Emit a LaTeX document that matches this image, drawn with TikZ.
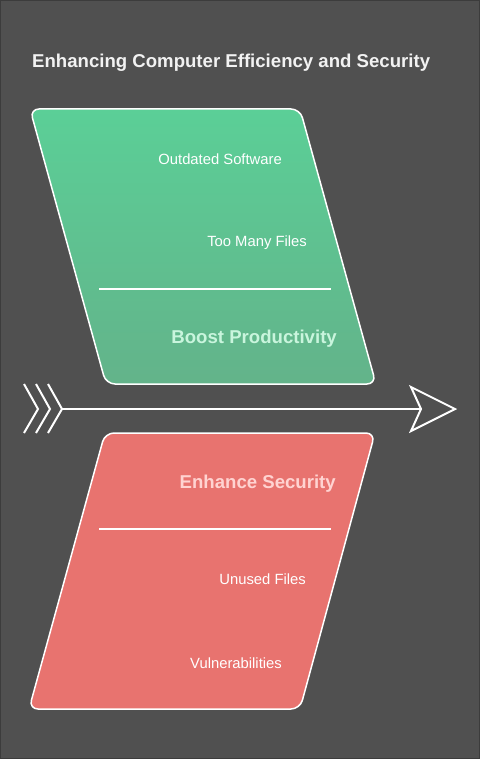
\documentclass[tikz,border=0pt]{standalone}
\usepackage{fontspec}
\setmainfont{Liberation Sans}
\definecolor{bg}{HTML}{505050}
\definecolor{bgedge}{HTML}{3C3C3C}
\definecolor{gtop}{HTML}{5BCF97}
\definecolor{gbot}{HTML}{63B38A}
\definecolor{redf}{HTML}{E8736F}
\definecolor{gtxt}{HTML}{C9F5DD}
\definecolor{rtxt}{HTML}{FFD3D1}
\definecolor{ttxt}{HTML}{F2F2F2}
\tikzset{
  panel/.style={draw=white, line width=1.5pt, rounded corners=9pt},
  item/.style={anchor=east, text=white, font=\fontsize{14.8}{16}\selectfont, inner sep=0pt},
  head/.style={anchor=east, font=\bfseries\fontsize{18.6}{20}\selectfont, inner sep=0pt},
  divider/.style={draw=white, line width=1.5pt},
  spine/.style={draw=white, line width=2pt},
}
\begin{document}
\begin{tikzpicture}[x=1pt,y=-1pt]
\fill[bg] (0,0) rectangle (480,759);
\draw[bgedge, line width=1pt] (0.5,0.5) rectangle (479.5,758.5);
\useasboundingbox (0,0) rectangle (480,759);

\node[anchor=west, text=ttxt, font=\bfseries\fontsize{18.6}{20}\selectfont, inner sep=0pt] (title) at (32,63) {Enhancing Computer Efficiency and Security};

% green panel
\shade[top color=gtop, bottom color=gbot, rounded corners=9pt] (30,109) -- (300,109) -- (376,384) -- (106,384) -- cycle;
\draw[panel] (30,109) -- (300,109) -- (376,384) -- (106,384) -- cycle;
\coordinate (gl) at (99,289);
\coordinate (gr) at (331,289);
\draw[divider] (gl) -- (gr);
\node[item] (o1) at (282,159) {Outdated Software};
\node[item] (o2) at (307,243) {Too Many Files};
\node[head, text=gtxt] (bp) at (337,339) {Boost Productivity};

% red panel
\draw[panel, fill=redf] (105,433) -- (375,433) -- (300,709) -- (29,709) -- cycle;
\coordinate (rl) at (99,529);
\coordinate (rr) at (331,529);
\draw[divider] (rl) -- (rr);
\node[head, text=rtxt] (es) at (336,484) {Enhance Security};
\node[item] (u1) at (306,579) {Unused Files};
\node[item] (u2) at (282,663) {Vulnerabilities};

% arrow
\coordinate (tail) at (62,409);
\coordinate (notch) at (421,409);
\coordinate (tip) at (455,409);
\coordinate (ht) at (411,387);
\coordinate (hb) at (411,431);
\draw[spine] (tail) -- (notch);
\draw[spine, line join=miter] (notch) -- (ht) -- (tip) -- (hb) -- cycle;
\foreach \x in {38,50,62}{
  \draw[spine] (\x-14,384) -- (\x,409) -- (\x-14,433);
}
\end{tikzpicture}
\end{document}
